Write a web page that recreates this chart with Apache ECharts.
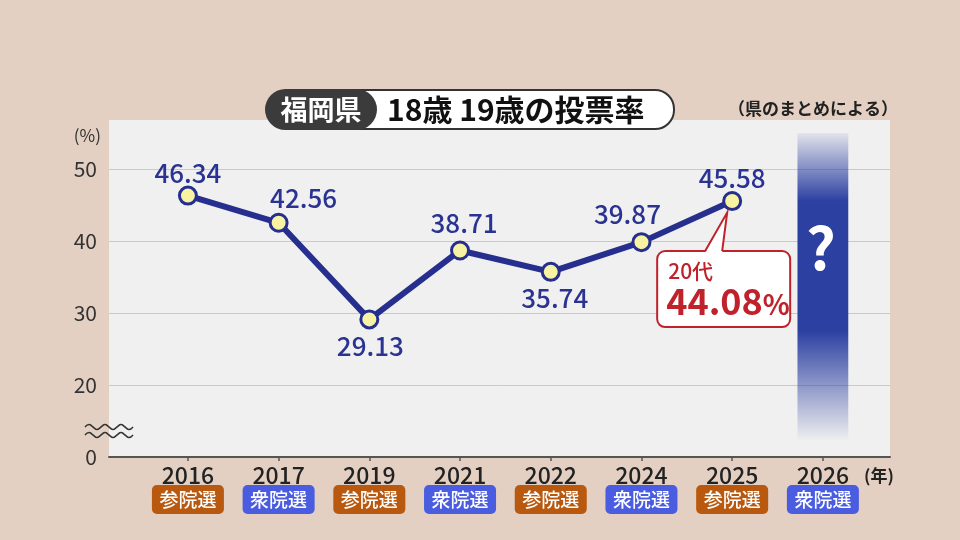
<!DOCTYPE html>
<html><head><meta charset="utf-8">
<script src="https://cdn.jsdelivr.net/npm/echarts@6/dist/echarts.min.js"></script>
<style>html,body{margin:0;padding:0;background:#e3d0c3}#c{width:960px;height:540px}</style>
</head><body><div id="c"></div>
<script>
// ---- data ----
const years = ['2016', '2017', '2019', '2021', '2022', '2024', '2025', '2026'];
const elections = ['参院選', '衆院選', '参院選', '衆院選', '参院選', '衆院選', '参院選', '衆院選'];
const turnout = [46.34, 42.56, 29.13, 38.71, 35.74, 39.87, 45.58];
const yTickValues = [10, 20, 30, 40, 50];
const yTickLabels = ['0', '20', '30', '40', '50']; // broken axis: bottom shown as 0
const calloutAge = '20代';
const calloutValue = 44.08;
const unknownIndex = 7;      // 2026
const unknownTop = 55;
const titleLeft = '福岡県';
const titleRight = '18歳 19歳の投票率';
const sourceNote = '（県のまとめによる）';
const yUnit = '(%)';
const xUnit = '(年)';

// ---- styling ----
const FONT = '"Noto Sans CJK JP", "Noto Sans", sans-serif';
const NAVY = '#262f8e';
const RED = '#c0222b';
const labelOffsets = [[0, -22], [25, -25], [1, 27], [4, -27], [4, 26], [-14, -28], [0, -23]];
const tagColor = { '参院選': '#b8590f', '衆院選': '#4a5ce0' };

const chart = echarts.init(document.getElementById('c'));

const lineData = turnout.map((v, i) => ({
  value: [i, v],
  label: { offset: labelOffsets[i] }
}));

const rich = {
  y: { fontFamily: FONT, fontSize: 23, fontWeight: 500, color: '#222', lineHeight: 20, height: 20, align: 'center' }
};
Object.keys(tagColor).forEach((k, idx) => {
  rich['t' + idx] = {
    fontFamily: FONT, fontSize: 19, fontWeight: 500, color: '#fff', backgroundColor: tagColor[k],
    borderRadius: 5, width: 72, height: 29, lineHeight: 29, align: 'center', verticalAlign: 'middle'
  };
});
const tagKey = k => 't' + Object.keys(tagColor).indexOf(k);

function wave(y) {
  const pts = [];
  for (let k = 0; k <= 12; k++) pts.push([85 + k * 4, y + (k % 2 === 0 ? 0 : (k % 4 === 1 ? -2.5 : 2.5))]);
  return pts;
}

chart.setOption({
  backgroundColor: '#e3d0c3',
  animation: false,
  textStyle: { fontFamily: FONT },
  title: {
    text: sourceNote, right: 57, top: 95,
    textStyle: { fontFamily: FONT, fontSize: 17, fontWeight: 'bold', color: '#222' }
  },
  grid: {
    left: 109, right: 70, top: 120, bottom: 83,
    show: true, backgroundColor: '#f0f0f0', borderWidth: 0
  },
  xAxis: {
    type: 'value', min: -0.87, max: 7.74,
    splitLine: { show: false },
    axisLine: { show: true, onZero: false, lineStyle: { color: '#555', width: 2 } },
    axisTick: { show: true, customValues: years.map((_, i) => i), length: 4, lineStyle: { color: '#555', width: 1.5 } },
    axisLabel: {
      customValues: years.map((_, i) => i), margin: 8,
      formatter: v => '{y|' + years[v] + '}\n{' + tagKey(elections[v]) + '|' + elections[v] + '}',
      rich: rich
    }
  },
  yAxis: {
    type: 'value', min: 10, max: 56.85, interval: 10,
    axisLine: { show: false }, axisTick: { show: false },
    axisLabel: {
      margin: 12, fontFamily: FONT, fontSize: 21, color: '#333',
      formatter: v => { const i = yTickValues.indexOf(v); return i >= 0 ? yTickLabels[i] : ''; }
    },
    splitLine: { show: true, lineStyle: { color: ['rgba(0,0,0,0)', '#c9c9c9', '#c9c9c9', '#c9c9c9', '#c9c9c9', 'rgba(0,0,0,0)'], width: 1 } }
  },
  series: [
    {
      type: 'custom', z: 1, silent: true,
      data: [[unknownIndex, unknownTop]],
      renderItem: (params, api) => {
        const x = api.value(0);
        const top = api.coord([x, api.value(1)]);
        const bot = api.coord([x, 10]);
        const w = api.size([1, 0])[0] * 0.56;
        const h = bot[1] - top[1];
        return {
          type: 'group', children: [
            {
              type: 'rect', shape: { x: top[0] - w / 2, y: top[1], width: w, height: h },
              style: {
                fill: new echarts.graphic.LinearGradient(0, 0, 0, 1, [
                  { offset: 0, color: 'rgba(44,64,162,0.08)' },
                  { offset: 0.21, color: 'rgba(44,64,162,1)' },
                  { offset: 0.61, color: 'rgba(44,64,162,1)' },
                  { offset: 0.95, color: 'rgba(44,64,162,0)' },
                  { offset: 1, color: 'rgba(44,64,162,0)' }
                ])
              }
            },
            {
              type: 'text',
              style: {
                text: '?', x: top[0] - 2, y: top[1] + h * 0.355, align: 'center', verticalAlign: 'middle',
                fill: '#fff', font: 'bold 58px ' + FONT
              }
            }
          ]
        };
      }
    },
    {
      type: 'line', z: 3, data: lineData,
      lineStyle: { color: NAVY, width: 6 },
      symbol: 'circle', symbolSize: 17,
      itemStyle: { color: '#f8f3a2', borderColor: NAVY, borderWidth: 3 },
      label: {
        show: true, position: 'inside',
        formatter: p => p.value[1].toFixed(2),
        fontFamily: FONT, fontSize: 26, fontWeight: 500, color: '#2a3391'
      }
    }
  ]
});

// callout anchored to the 2025 point
const p = chart.convertToPixel({ gridIndex: 0 }, [6, turnout[6]]);
const px = p[0], py = p[1];
const L = px - 75, R = px + 58, T = py + 50, B = py + 126;
const a = px - 27, b = px - 10, tx = px - 5, ty = py + 11.5;

chart.setOption({
  graphic: [
    { type: 'rect', shape: { x: 300, y: 90, width: 374, height: 39, r: [0, 19, 19, 0] }, style: { fill: '#fff', stroke: '#333', lineWidth: 2 }, z: 10 },
    { type: 'rect', shape: { x: 265, y: 89, width: 112, height: 41, r: 20.5 }, style: { fill: '#3b3b3b' }, z: 11 },
    { type: 'text', x: 321, y: 110, style: { text: titleLeft, align: 'center', verticalAlign: 'middle', fill: '#fff', font: 'bold 27px ' + FONT }, z: 12 },
    { type: 'text', x: 387, y: 110, style: { text: titleRight, align: 'left', verticalAlign: 'middle', fill: '#111', font: 'bold 30px ' + FONT }, z: 12 },
    { type: 'text', x: 101, y: 136, style: { text: yUnit, align: 'right', verticalAlign: 'middle', fill: '#333', font: '17px ' + FONT }, z: 12 },
    { type: 'text', x: 864, y: 476, style: { text: xUnit, align: 'left', verticalAlign: 'middle', fill: '#222', font: 'bold 17px ' + FONT }, z: 12 },
    { type: 'polyline', shape: { points: wave(427), smooth: 0.5 }, style: { fill: null, stroke: '#333', lineWidth: 1.5 }, z: 12 },
    { type: 'polyline', shape: { points: wave(435), smooth: 0.5 }, style: { fill: null, stroke: '#333', lineWidth: 1.5 }, z: 12 },
    // callout
    { type: 'rect', shape: { x: L, y: T, width: R - L, height: B - T, r: 8 }, style: { fill: '#fff', stroke: RED, lineWidth: 2 }, z: 5 },
    { type: 'polygon', shape: { points: [[a, T + 1.5], [tx, ty], [b, T + 1.5]] }, style: { fill: '#fff' }, z: 6 },
    { type: 'polyline', shape: { points: [[a, T], [tx, ty], [b, T]] }, style: { fill: null, stroke: RED, lineWidth: 2, lineJoin: 'miter' }, z: 6 },
    { type: 'text', x: L + 11, y: py + 70, style: { text: calloutAge, align: 'left', verticalAlign: 'middle', fill: RED, font: '500 21px ' + FONT }, z: 7 },
    {
      type: 'text', x: L + 9, y: py + 100, z: 7,
      style: {
        text: '{n|' + calloutValue.toFixed(2) + '}{p|%}', align: 'left', verticalAlign: 'middle',
        rich: {
          n: { fontFamily: FONT, fontSize: 36, fontWeight: 'bold', fill: RED },
          p: { fontFamily: FONT, fontSize: 28, fontWeight: 'bold', fill: RED, padding: [6, 0, 0, 0] }
        }
      }
    }
  ]
});
</script>
</body></html>
